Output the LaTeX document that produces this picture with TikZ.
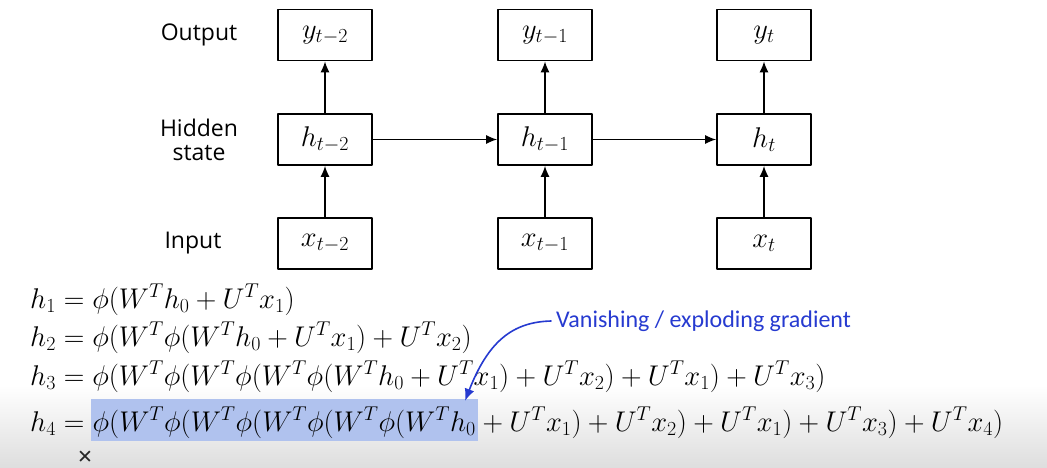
\RequirePackage{fix-cm}
\documentclass[tikz,border=0pt]{standalone}
\usepackage{fontspec}
\setsansfont{Open Sans}
\newfontfamily\callout{Carlito}
\newfontfamily\symfont{DejaVu Sans}
\usetikzlibrary{arrows.meta,positioning}
\definecolor{noteblue}{RGB}{38,58,208}
\definecolor{hlblue}{RGB}{176,194,238}
\tikzset{
  cell/.style={draw,line width=1.6pt,minimum width=94pt,minimum height=51pt,inner sep=0pt,
    font=\fontsize{28.5}{30}\selectfont},
  lbl/.style={font=\sffamily\fontsize{23}{26}\selectfont,align=center},
  flow/.style={line width=1.6pt,-{Latex[length=11pt,width=9pt]}},
  eq/.style={anchor=base west,inner sep=0pt,font=\fontsize{28.5}{30}\selectfont}
}
\begin{document}
\begin{tikzpicture}[x=1pt,y=-1pt,line cap=round,line join=round]
  \useasboundingbox (0,0) rectangle (1047,468);
  % faint grey band at the bottom
  \shade[top color=white,bottom color=black!13,draw=none] (0,385) rectangle (1047,468);

  % the unrolled network
  \node[cell] (y1) at (325,35) {$y_{t-2}$};
  \node[cell] (y2) at (545,35) {$y_{t-1}$};
  \node[cell] (y3) at (764,35) {$y_{t}$};
  \node[cell] (h1) at (325,139.5) {$h_{t-2}$};
  \node[cell] (h2) at (545,139.5) {$h_{t-1}$};
  \node[cell] (h3) at (764,139.5) {$h_{t}$};
  \node[cell] (x1) at (325,243.5) {$x_{t-2}$};
  \node[cell] (x2) at (545,243.5) {$x_{t-1}$};
  \node[cell] (x3) at (764,243.5) {$x_{t}$};
  \node[lbl] (lout) at (199,35) {Output};
  \node[lbl] (lhid) at (199,140) {Hidden\\[-2pt]state};
  \node[lbl] (lin) at (193,243.5) {Input};
  \foreach \i in {1,2,3} {
    \draw[flow] (x\i) -- (h\i);
    \draw[flow] (h\i) -- (y\i);
  }
  \draw[flow] (h1) -- (h2);
  \draw[flow] (h2) -- (h3);

  % recursion written out
  \node[eq] (e1) at (30,308) {$h_1 = \phi(W^T h_0 + U^T x_1)$};
  \node[eq] (e2) at (30,346) {$h_2 = \phi(W^T \phi(W^T h_0 + U^T x_1) + U^T x_2)$};
  \node[eq] (e3) at (30,385) {$h_3 = \phi(W^T\phi(W^T\phi(W^T\phi(W^T h_0 + U^T x_1) + U^T x_2) + U^T x_1) + U^T x_3)$};
  \node[eq] (e4) at (30,431) {$h_4 ={}$};
  \node[eq,fill=hlblue,inner xsep=2pt,text height=32pt,text depth=10pt,xshift=-2pt] (hl) at (e4.base east)
    {$\phi(W^T\phi(W^T\phi(W^T\phi(W^T\phi(W^T h_0$};
  \node[eq,xshift=-2pt] (e4b) at (hl.base east) {${}+ U^T x_1) + U^T x_2) + U^T x_1) + U^T x_3) + U^T x_4)$};
  \node[font=\symfont\fontsize{19}{19}\selectfont,text=black!85] (close) at (85,457) {✕};

  % callout
  \node[anchor=west,inner sep=0pt,text=noteblue,font=\callout\fontsize{24}{28}\selectfont] (note) at (556,321) {Vanishing / exploding gradient};
  \coordinate (tip) at ([xshift=-13pt,yshift=-2pt]hl.north east);
  \draw[noteblue,line width=1.6pt,-{Latex[length=12pt,width=10pt]}] ([xshift=-5pt]note.west) .. controls (512,322) and (488,342) .. (tip);
\end{tikzpicture}
\end{document}
